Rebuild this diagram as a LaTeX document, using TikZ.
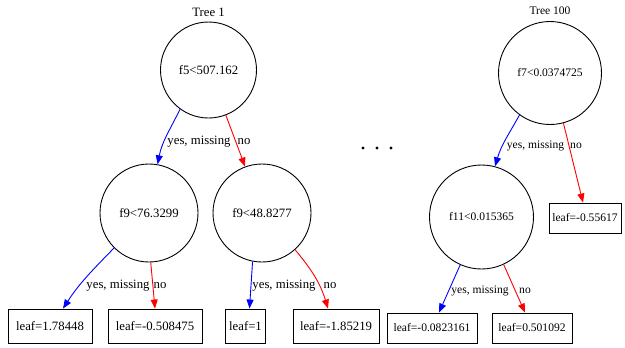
\documentclass[tikz,border=0pt]{standalone}
\usepackage{fontspec}
\setmainfont{Liberation Serif}
\usetikzlibrary{arrows.meta}
\begin{document}
\begin{tikzpicture}[x=1bp,y=1bp,
  font=\fontsize{12.8}{14}\selectfont,
  split/.style={circle,draw,line width=0.9bp,inner sep=0pt},
  leafbox/.style={rectangle,draw,line width=0.9bp,inner sep=0pt,minimum height=34bp},
  yesedge/.style={draw=blue,line width=0.9bp,-{Triangle[length=9bp,width=7bp]}},
  noedge/.style={draw=red,line width=0.9bp,-{Triangle[length=9bp,width=7bp]}},
  small/.style={font=\fontsize{11.6}{13}\selectfont},
  dotmark/.style={circle,fill,inner sep=0pt,minimum size=3.4bp}]
\useasboundingbox (0,0) rectangle (625,-347);
% Tree 1
\node (t1) at (208.5,-12) {Tree 1};
\node[split,minimum size=96bp] (r1) at (208.5,-70) {f5<507.162};
\node[split,minimum size=98bp] (c1) at (149,-213) {f9<76.3299};
\node[split,minimum size=98bp] (c2) at (262,-213) {f9<48.8277};
\node[leafbox,minimum width=84bp] (l1) at (50,-326) {leaf=1.78448};
\node[leafbox,minimum width=94bp] (l2) at (155,-326) {leaf=-0.508475};
\node[leafbox,minimum width=40bp] (l3) at (245.5,-326) {leaf=1};
\node[leafbox,minimum width=86bp] (l4) at (336,-326) {leaf=-1.85219};
\draw[yesedge] (r1.234) to[out=244,in=79] (c1.80);
\draw[noedge] (r1.-69) -- (c2.110);
\draw[yesedge] (c1.225) to[out=226,in=57] ([xshift=13bp]l1.north);
\draw[noedge] (c1.272) -- (l2.north);
\draw[yesedge] (c2.259) -- ([xshift=4bp]l3.north);
\draw[noedge] (c2.-48) to[out=-50,in=107] ([xshift=-8bp]l4.north);
\node (y1) at (199,-142) {yes, missing};
\node (n1) at (244,-142) {no};
\node (y2) at (118,-286) {yes, missing};
\node (n2) at (160,-286) {no};
\node (y3) at (284,-286) {yes, missing};
\node (n3) at (330,-286) {no};
% dots
\node[dotmark] (d1) at (363,-148) {};
\node[dotmark] (d2) at (377,-148) {};
\node[dotmark] (d3) at (391,-148) {};
% Tree 100
\node[small] (t100) at (550,-11) {Tree 100};
\node[split,small,minimum size=103bp] (r2) at (550,-73) {f7<0.0374725};
\node[split,small,minimum size=104bp] (c3) at (481.5,-217) {f11<0.015365};
\node[leafbox,small,minimum width=72bp,minimum height=30bp] (m1) at (585,-218) {leaf=-0.55617};
\node[leafbox,small,minimum width=90bp,minimum height=30bp] (m2) at (432,-328) {leaf=-0.0823161};
\node[leafbox,small,minimum width=80bp,minimum height=30bp] (m3) at (532,-328) {leaf=0.501092};
\draw[yesedge] (r2.234) to[out=241,in=74] (c3.75);
\draw[noedge] (r2.-75) -- ([xshift=-2bp]m1.north);
\draw[yesedge] (c3.246) -- ([xshift=7bp]m2.north);
\draw[noedge] (c3.-65) -- ([xshift=-7bp]m3.north);
\node[small] (y4) at (535.5,-146) {yes, missing};
\node[small] (n4) at (576,-146) {no};
\node[small] (y5) at (480,-291) {yes, missing};
\node[small] (n5) at (525,-291) {no};
\end{tikzpicture}
\end{document}
